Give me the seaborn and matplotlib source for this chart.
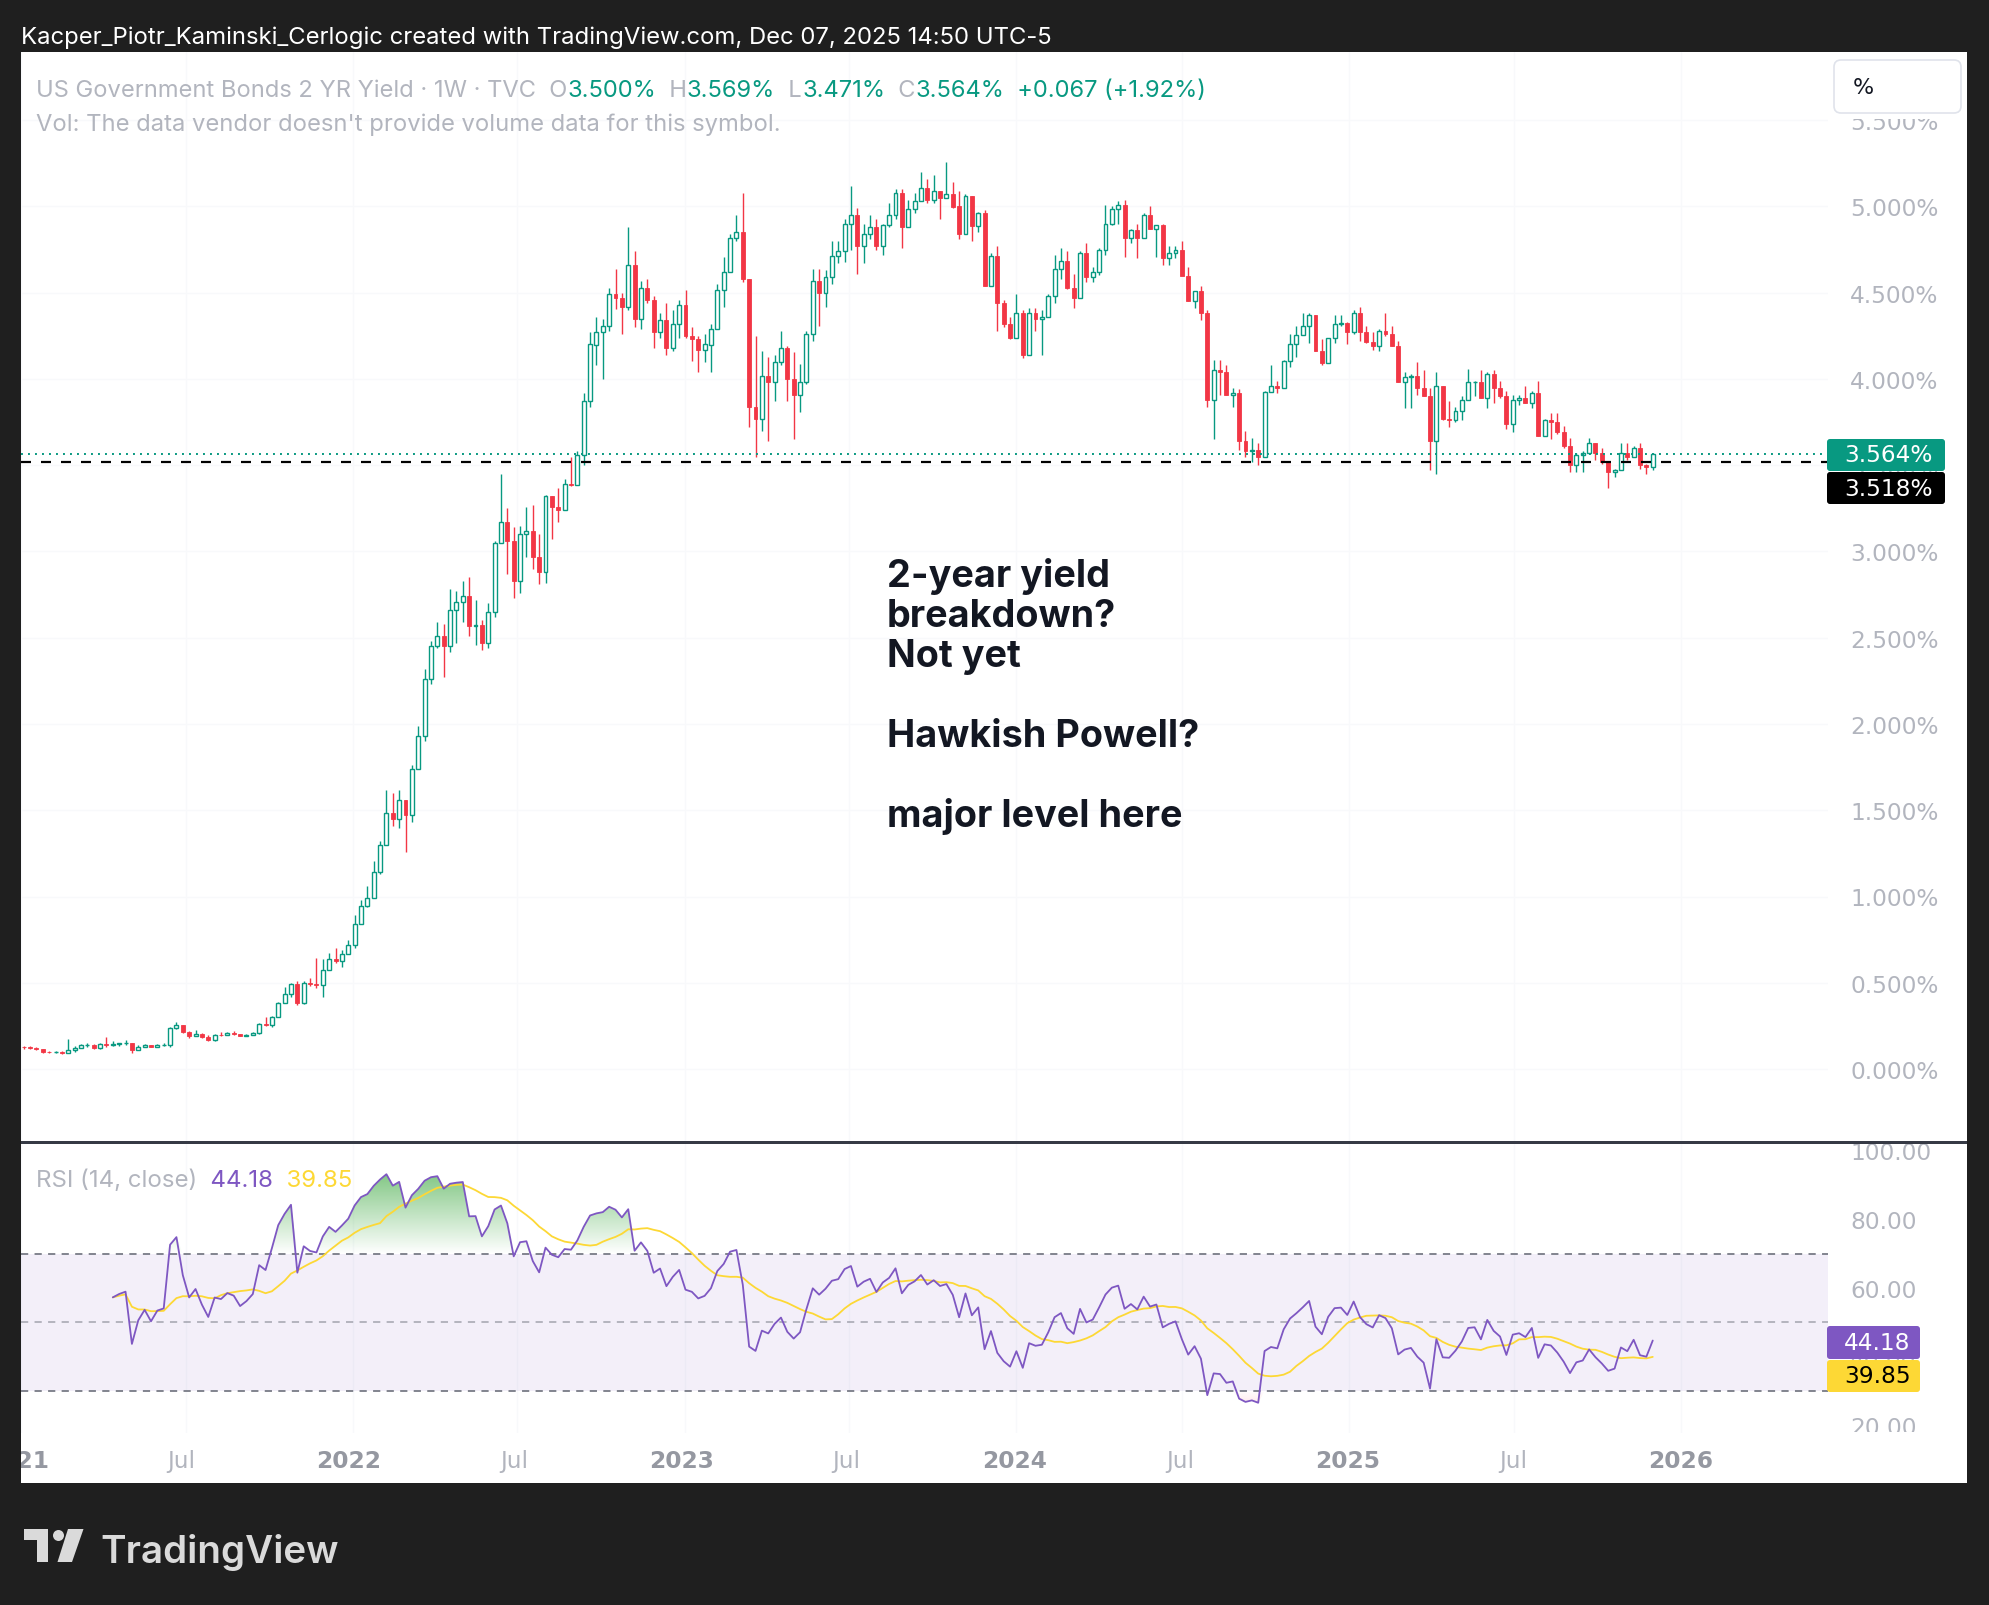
import numpy as np
import pandas as pd
import matplotlib
matplotlib.use("Agg")
import matplotlib.pyplot as plt
import seaborn as sns
from matplotlib.patches import Rectangle, FancyBboxPatch, Circle, Polygon
from matplotlib.colors import LinearSegmentedColormap

# weekly bars of US 2Y yield, first bar = week of 2021-01-04
start = pd.Timestamp("2021-01-04")
first_open = 0.13

close_2021 = [0.125, 0.12, 0.115, 0.10, 0.098, 0.10, 0.095, 0.11, 0.12, 0.14,
              0.142, 0.12, 0.145, 0.14, 0.145, 0.148, 0.15, 0.11, 0.13, 0.14,
              0.13, 0.14, 0.142, 0.236, 0.255, 0.217, 0.19, 0.205, 0.185, 0.168,
              0.20, 0.198, 0.208, 0.205, 0.193, 0.20, 0.21, 0.26, 0.255, 0.304,
              0.381, 0.435, 0.49, 0.38, 0.50, 0.49, 0.487, 0.572, 0.635, 0.625,
              0.667, 0.717]
high_2021 = [0.135, 0.135, 0.125, 0.115, 0.105, 0.105, 0.105, 0.175, 0.135, 0.145,
             0.15, 0.145, 0.15, 0.187, 0.16, 0.152, 0.17, 0.15, 0.14, 0.145,
             0.14, 0.145, 0.148, 0.245, 0.27, 0.255, 0.22, 0.225, 0.21, 0.195,
             0.205, 0.215, 0.215, 0.22, 0.205, 0.205, 0.215, 0.265, 0.30, 0.31,
             0.39, 0.475, 0.50, 0.51, 0.51, 0.53, 0.645, 0.635, 0.67, 0.70,
             0.69, 0.75]
low_2021 = [0.115, 0.115, 0.11, 0.095, 0.093, 0.092, 0.088, 0.09, 0.10, 0.12,
            0.13, 0.115, 0.115, 0.13, 0.135, 0.135, 0.14, 0.095, 0.11, 0.13,
            0.125, 0.13, 0.135, 0.13, 0.23, 0.21, 0.18, 0.19, 0.18, 0.165,
            0.16, 0.19, 0.195, 0.20, 0.19, 0.19, 0.195, 0.205, 0.25, 0.245,
            0.30, 0.39, 0.42, 0.37, 0.375, 0.48, 0.47, 0.42, 0.59, 0.615,
            0.59, 0.70]

close_2022 = [0.84, 0.946, 0.99, 1.14, 1.30, 1.485, 1.45, 1.56, 1.475, 1.74,
              1.93, 2.26, 2.45, 2.51, 2.45, 2.66, 2.71, 2.74, 2.57, 2.575,
              2.47, 2.65, 3.05, 3.17, 3.06, 2.83, 3.10, 3.12, 2.97, 2.88,
              3.32, 3.26, 3.24, 3.39, 3.385, 3.56, 3.87, 4.20, 4.27, 4.31,
              4.49, 4.47, 4.42, 4.66, 4.35, 4.53, 4.46, 4.27, 4.34, 4.18,
              4.32, 4.43]
high_2022 = [0.894, 0.98, 1.06, 1.205, 1.32, 1.62, 1.60, 1.62, 1.55, 1.76,
             1.99, 2.32, 2.48, 2.59, 2.58, 2.78, 2.77, 2.83, 2.85, 2.72,
             2.60, 2.70, 3.06, 3.45, 3.25, 3.14, 3.15, 3.26, 3.27, 3.10,
             3.33, 3.30, 3.37, 3.42, 3.55, 3.58, 3.92, 4.27, 4.36, 4.35,
             4.53, 4.64, 4.50, 4.88, 4.74, 4.57, 4.58, 4.48, 4.38, 4.44,
             4.40, 4.46]
low_2022 = [0.70, 0.86, 0.94, 1.00, 1.13, 1.30, 1.41, 1.40, 1.256, 1.43,
            1.76, 1.90, 2.23, 2.44, 2.27, 2.42, 2.47, 2.59, 2.51, 2.46,
            2.43, 2.44, 2.62, 3.08, 2.87, 2.73, 2.76, 2.97, 2.90, 2.81,
            2.82, 3.07, 3.17, 3.24, 3.38, 3.39, 3.50, 3.84, 4.08, 4.00,
            4.28, 4.405, 4.26, 4.40, 4.30, 4.29, 4.44, 4.18, 4.24, 4.14,
            4.16, 4.24]

close_2023 = [4.25, 4.23, 4.17, 4.20, 4.29, 4.515, 4.62, 4.82, 4.85, 4.58,
              3.84, 3.77, 4.02, 3.98, 4.10, 4.18, 4.00, 3.91, 3.98, 4.26,
              4.57, 4.50, 4.59, 4.715, 4.74, 4.90, 4.95, 4.77, 4.84, 4.88,
              4.77, 4.89, 4.95, 5.08, 4.88, 4.985, 5.03, 5.11, 5.04, 5.09,
              5.05, 5.07, 5.00, 4.84, 5.06, 4.885, 4.96, 4.54, 4.715, 4.44,
              4.32, 4.24]
high_2023 = [4.515, 4.30, 4.25, 4.26, 4.32, 4.55, 4.71, 4.84, 4.95, 5.08,
             4.55, 4.25, 4.16, 4.13, 4.14, 4.28, 4.19, 4.157, 4.086, 4.28,
             4.64, 4.64, 4.63, 4.80, 4.80, 4.93, 5.12, 4.99, 4.90, 4.95,
             4.93, 4.90, 5.02, 5.10, 5.10, 5.04, 5.08, 5.20, 5.16, 5.18,
             5.08, 5.26, 5.14, 5.09, 5.07, 5.06, 4.97, 4.98, 4.73, 4.77,
             4.46, 4.36]
low_2023 = [4.24, 4.105, 4.04, 4.10, 4.04, 4.30, 4.42, 4.62, 4.80, 4.56,
            3.72, 3.55, 3.70, 3.64, 3.87, 4.08, 3.87, 3.65, 3.81, 3.97,
            4.22, 4.31, 4.42, 4.55, 4.67, 4.68, 4.75, 4.61, 4.67, 4.81,
            4.75, 4.72, 4.88, 4.93, 4.76, 4.89, 4.96, 5.03, 5.02, 5.02,
            4.93, 5.05, 4.99, 4.81, 4.85, 4.80, 4.85, 4.54, 4.57, 4.28,
            4.30, 4.23]

close_2024 = [4.38, 4.14, 4.385, 4.35, 4.36, 4.48, 4.64, 4.685, 4.53, 4.47,
              4.73, 4.59, 4.62, 4.75, 4.90, 4.985, 5.01, 4.815, 4.865, 4.82,
              4.95, 4.87, 4.89, 4.70, 4.73, 4.75, 4.60, 4.45, 4.51, 4.385,
              3.88, 4.05, 4.04, 3.91, 3.92, 3.64, 3.58, 3.59, 3.55, 3.925,
              3.96, 3.945, 4.105, 4.205, 4.255, 4.31, 4.37, 4.16, 4.09, 4.24,
              4.32, 4.325, 4.27]
high_2024 = [4.49, 4.40, 4.41, 4.41, 4.40, 4.49, 4.72, 4.76, 4.74, 4.61,
             4.74, 4.79, 4.65, 4.76, 5.01, 5.00, 5.03, 5.04, 4.87, 4.90,
             4.96, 5.00, 4.89, 4.90, 4.77, 4.77, 4.80, 4.65, 4.51, 4.54,
             4.40, 4.11, 4.11, 4.08, 3.95, 3.94, 3.70, 3.66, 3.63, 3.93,
             4.08, 3.99, 4.11, 4.26, 4.31, 4.38, 4.38, 4.35, 4.23, 4.24,
             4.37, 4.37, 4.33]
low_2024 = [4.24, 4.12, 4.14, 4.28, 4.14, 4.36, 4.44, 4.58, 4.52, 4.41,
            4.48, 4.56, 4.56, 4.60, 4.72, 4.89, 4.90, 4.71, 4.79, 4.70,
            4.82, 4.87, 4.71, 4.66, 4.66, 4.70, 4.60, 4.45, 4.41, 4.34,
            3.84, 3.65, 3.91, 3.91, 3.84, 3.59, 3.55, 3.52, 3.50, 3.56,
            3.93, 3.92, 3.95, 4.07, 4.13, 4.27, 4.21, 4.16, 4.08, 4.10,
            4.21, 4.31, 4.20]

close_2025 = [4.385, 4.27, 4.215, 4.19, 4.28, 4.26, 4.19, 3.98, 4.01, 4.02,
              3.95, 3.90, 3.64, 3.96, 3.77, 3.765, 3.815, 3.88, 3.98, 3.985,
              3.89, 4.03, 3.945, 3.90, 3.74, 3.88, 3.89, 3.86, 3.92, 3.67,
              3.76, 3.75, 3.69, 3.61, 3.50, 3.56, 3.57, 3.63, 3.57, 3.52,
              3.46, 3.47, 3.57, 3.545, 3.60, 3.50, 3.49, 3.564]
high_2025 = [4.40, 4.42, 4.31, 4.27, 4.29, 4.38, 4.31, 4.22, 4.04, 4.03,
             4.10, 4.05, 3.95, 4.04, 3.94, 3.87, 3.84, 3.90, 4.06, 3.99,
             4.05, 4.04, 4.05, 3.99, 3.93, 3.91, 3.91, 3.96, 3.93, 3.99,
             3.77, 3.80, 3.80, 3.73, 3.66, 3.57, 3.58, 3.66, 3.63, 3.60,
             3.51, 3.48, 3.63, 3.63, 3.61, 3.63, 3.51, 3.569]
low_2025 = [4.26, 4.22, 4.21, 4.17, 4.16, 4.25, 4.19, 3.98, 3.83, 3.83,
            3.91, 3.90, 3.47, 3.45, 3.76, 3.72, 3.75, 3.76, 3.91, 3.90,
            3.89, 3.83, 3.86, 3.89, 3.71, 3.69, 3.85, 3.86, 3.83, 3.67,
            3.67, 3.65, 3.68, 3.60, 3.46, 3.46, 3.46, 3.57, 3.53, 3.51,
            3.37, 3.43, 3.49, 3.53, 3.57, 3.48, 3.45, 3.471]

level_line = 3.518
last_price = 3.564
price_ticks = [0.0, 0.5, 1.0, 1.5, 2.0, 2.5, 3.0, 3.5, 4.0, 4.5, 5.0, 5.5]
rsi_ticks = [20, 40, 60, 80, 100]
time_labels = ["2021", "Jul", "2022", "Jul", "2023", "Jul", "2024", "Jul", "2025", "Jul", "2026"]
time_dates = ["2021-01-01", "2021-07-01", "2022-01-01", "2022-07-01", "2023-01-01", "2023-07-01",
              "2024-01-01", "2024-07-01", "2025-01-01", "2025-07-01", "2026-01-01"]
note_lines = ["2-year yield", "breakdown?", "Not yet", "Hawkish Powell?", "major level here"]
note_baselines = [587, 627, 667, 747, 827]

GREEN = "#089981"
RED = "#F23645"
PURPLE = "#7E57C2"
YELLOW = "#FDD835"
GRAY = "#B2B5BE"
DARK = "#131722"

# ---- data frame ----
df = pd.DataFrame({
    "close": close_2021 + close_2022 + close_2023 + close_2024 + close_2025,
    "high": high_2021 + high_2022 + high_2023 + high_2024 + high_2025,
    "low": low_2021 + low_2022 + low_2023 + low_2024 + low_2025,
})
df["open"] = df["close"].shift(1).fillna(first_open)
df["high"] = df[["high", "open", "close"]].max(axis=1)
df["low"] = df[["low", "open", "close"]].min(axis=1)
df["x"] = np.arange(len(df))

# RSI 14 (Wilder), seeded with simple average like TradingView
delta = df["close"].diff()
gain = delta.clip(lower=0)
loss = (-delta).clip(lower=0)
g = gain.copy()
l = loss.copy()
g.iloc[:14] = np.nan
l.iloc[:14] = np.nan
g.iloc[14] = gain.iloc[1:15].mean()
l.iloc[14] = loss.iloc[1:15].mean()
avg_g = g.ewm(alpha=1 / 14, adjust=False).mean()
avg_l = l.ewm(alpha=1 / 14, adjust=False).mean()
df["rsi"] = 100 - 100 / (1 + avg_g / avg_l)
df["rsi_ma"] = df["rsi"].rolling(14, min_periods=1).mean()

# ---- figure ----
W, H, DPI = 1990, 1606, 100
sns.set_theme(style="white")
plt.rcParams["font.family"] = ["Inter", "DejaVu Sans"]


def rect(x0, y0, x1, y1):
    return [x0 / W, 1 - y1 / H, (x1 - x0) / W, (y1 - y0) / H]


fig = plt.figure(figsize=(W / DPI, H / DPI), dpi=DPI)
fig.patch.set_facecolor("#1f1f1f")
renderer = fig.canvas.get_renderer()

base = fig.add_axes([0, 0, 1, 1])
base.set_xlim(0, W)
base.set_ylim(H, 0)
base.axis("off")
base.set_zorder(-5)
base.add_patch(Rectangle((21, 53), 1946, 1431, color="white", lw=0))

x_left = (21 - 19) / 6.38
x_right = (1828 - 19) / 6.38
tpos = [(pd.Timestamp(d) - start).days / 7 for d in time_dates]


def fit_size(text, width, **kw):
    t = base.text(0, 0, text, fontsize=20, **kw)
    w = t.get_window_extent(renderer).width
    t.remove()
    return 20 * width / w


tick_size = fit_size("5.000%", 89, family="DejaVu Sans")

# main price pane
ax = fig.add_axes(rect(21, 53, 1828, 1143))
ax.patch.set_alpha(0)
ax.set_zorder(1)
up = df[df["close"] >= df["open"]]
dn = df[df["close"] < df["open"]]
ax.vlines(up["x"], up["low"], up["high"], color=GREEN, lw=1.0, zorder=2)
ax.vlines(dn["x"], dn["low"], dn["high"], color=RED, lw=1.0, zorder=2)
ax.bar(up["x"], up["close"] - up["open"], bottom=up["open"], width=0.62,
       facecolor="white", edgecolor=GREEN, linewidth=1.0, zorder=3)
ax.bar(dn["x"], dn["open"] - dn["close"], bottom=dn["close"], width=0.62,
       facecolor=RED, edgecolor=RED, linewidth=0.6, zorder=3)
ax.axhline(level_line, color="black", lw=1.6, ls=(0, (4.5, 4.5)), zorder=4)
ax.axhline(last_price, color=GREEN, lw=1.4, ls=(0, (1, 2.6)), zorder=4)
ax.set_xlim(x_left, x_right)
ax.set_ylim((1070 - 1143) / 172.5, (1070 - 53) / 172.5)
ax.set_yticks(price_ticks)
ax.set_yticklabels([f"{v:.3f}%" for v in price_ticks])
ax.yaxis.tick_right()
ax.set_xticks(tpos)
ax.tick_params(axis="x", length=0, labelbottom=False)
ax.tick_params(axis="y", length=0, pad=16, labelsize=tick_size, labelcolor=GRAY)
for lab in ax.get_yticklabels():
    lab.set_family("DejaVu Sans")
ax.grid(True, color="#F8F9FB", lw=1)
for s in ax.spines.values():
    s.set_visible(False)

# RSI pane
rax = fig.add_axes(rect(21, 1145, 1828, 1434))
rax.patch.set_alpha(0)
rax.set_zorder(1)
rax.axhspan(30, 70, color=PURPLE, alpha=0.09, lw=0)
for lvl, a in ((70, 1.0), (50, 0.55), (30, 1.0)):
    rax.axhline(lvl, color="#787B86", alpha=a, lw=1.3, ls=(0, (4, 3.5)))

valid = df["rsi"].notna()
xv = df.loc[valid, "x"].values
rv = df.loc[valid, "rsi"].values
grad = np.linspace(0, 1, 256).reshape(-1, 1)
poly = rax.fill_between(xv, 70, np.maximum(rv, 70), facecolor="none", edgecolor="none")
cm_g = LinearSegmentedColormap.from_list("g", [(0.30, 0.69, 0.31, 0.0), (0.30, 0.69, 0.31, 0.9)])
im = rax.imshow(grad, extent=[xv[0], xv[-1], 70, 100], origin="lower", aspect="auto", cmap=cm_g, zorder=1)
im.set_clip_path(poly.get_paths()[0], transform=rax.transData)
poly2 = rax.fill_between(xv, np.minimum(rv, 30), 30, facecolor="none", edgecolor="none")
cm_r = LinearSegmentedColormap.from_list("r", [(0.95, 0.21, 0.27, 0.9), (0.95, 0.21, 0.27, 0.0)])
im2 = rax.imshow(grad, extent=[xv[0], xv[-1], 0, 30], origin="lower", aspect="auto", cmap=cm_r, zorder=1)
im2.set_clip_path(poly2.get_paths()[0], transform=rax.transData)

sns.lineplot(x=df["x"], y=df["rsi_ma"], ax=rax, color=YELLOW, lw=1.3, zorder=3)
sns.lineplot(x=df["x"], y=df["rsi"], ax=rax, color=PURPLE, lw=1.3, zorder=4)
rax.set_xlim(x_left, x_right)
rax.set_ylim(100 - (1434 - 1151.5) / 3.435, 100 + (1151.5 - 1145) / 3.435)
rax.set_yticks(rsi_ticks)
rax.set_yticklabels([f"{v:.2f}" for v in rsi_ticks])
rax.yaxis.tick_right()
rax.set_xticks(tpos)
rax.tick_params(axis="x", length=0, labelbottom=False)
rax.tick_params(axis="y", length=0, pad=16, labelsize=tick_size, labelcolor=GRAY)
for lab in rax.get_yticklabels():
    lab.set_family("DejaVu Sans")
rax.set_xlabel("")
rax.set_ylabel("")
rax.grid(True, axis="x", color="#F8F9FB", lw=1)
for s in rax.spines.values():
    s.set_visible(False)

# time axis
tax = fig.add_axes(rect(21, 1434, 1828, 1484))
tax.patch.set_alpha(0)
tax.set_xlim(x_left, x_right)
tax.set_ylim(0, 1)
tax.axis("off")
for lab, p in zip(time_labels, tpos):
    is_year = lab != "Jul"
    tax.text(p, 0.45, lab, ha="center", va="center", fontsize=tick_size, family="DejaVu Sans",
             color="#9598A1" if is_year else GRAY, weight="bold" if is_year else "normal",
             clip_on=True)

# overlay: texts, tags, logo
ov = fig.add_axes([0, 0, 1, 1])
ov.set_xlim(0, W)
ov.set_ylim(H, 0)
ov.axis("off")
ov.set_zorder(10)

ov.add_patch(Rectangle((1829, 53), 138, 67, color="white", lw=0))
ov.add_patch(FancyBboxPatch((1834, 61), 127, 53, boxstyle="round,pad=0,rounding_size=7",
                            fc="white", ec="#E0E3EB", lw=1.2))
ov.text(1863, 88, "%", ha="center", va="center", fontsize=tick_size * 0.95, color=DARK, family="DejaVu Sans")
ov.add_patch(Rectangle((1829, 1115), 138, 28, color="white", lw=0))
ov.add_patch(Rectangle((1829, 1433), 138, 51, color="white", lw=0))
ov.add_patch(Rectangle((21, 1142), 1946, 3, color="#363A45", lw=0))


def tag(y0, y1, text, fc, tc, x1=1945):
    ov.add_patch(FancyBboxPatch((1827, y0), x1 - 1827, y1 - y0, boxstyle="round,pad=0,rounding_size=3",
                                fc=fc, ec="none"))
    ov.text(1844, (y0 + y1) / 2, text, ha="left", va="center", fontsize=tick_size, color=tc,
            family="DejaVu Sans")


tag(440, 472, f"{last_price:.3f}%", GREEN, "white")
tag(473, 505, f"{level_line:.3f}%", "black", "white")
tag(1327, 1360, "44.18", PURPLE, "white", x1=1920)
tag(1361, 1393, "39.85", YELLOW, "black", x1=1920)

hdr = "Kacper_Piotr_Kaminski_Cerlogic created with TradingView.com, Dec 07, 2025 14:50 UTC-5"
ov.text(21, 38, hdr, ha="left", va="center", color="white", fontsize=fit_size(hdr, 1030))


def seq(x, y, pieces, size):
    for s, c in pieces:
        t = ov.text(x, y, s, ha="left", va="center", color=c, fontsize=size)
        x += t.get_window_extent(renderer).width


legend = [("US Government Bonds 2 YR Yield · 1W · TVC", GRAY), ("  O", GRAY), ("3.500%", GREEN),
          ("  H", GRAY), ("3.569%", GREEN), ("  L", GRAY), ("3.471%", GREEN),
          ("  C", GRAY), ("3.564%", GREEN), ("  +0.067 (+1.92%)", GREEN)]
seq(36, 91, legend, fit_size("".join(s for s, _ in legend), 1171))
vol = "Vol: The data vendor doesn't provide volume data for this symbol."
ov.text(36, 125, vol, ha="left", va="center", color=GRAY, fontsize=fit_size(vol, 742))
rsi_leg = [("RSI (14, close)", GRAY), ("  44.18", PURPLE), ("  39.85", YELLOW)]
seq(36, 1181, rsi_leg, fit_size("".join(s for s, _ in rsi_leg), 317))

note_size = fit_size("Hawkish Powell?", 313, weight="bold")
for line, yb in zip(note_lines, note_baselines):
    ov.text(887, yb, line, ha="left", va="baseline", color=DARK, fontsize=note_size, weight="bold")

# TradingView logo
LOGO = "#DADADA"
ov.add_patch(Rectangle((24, 1530), 24, 11, color=LOGO, lw=0))
ov.add_patch(Rectangle((36.5, 1530), 11.5, 33, color=LOGO, lw=0))
ov.add_patch(Circle((58.5, 1536.5), 5.5, color=LOGO, lw=0))
ov.add_patch(Polygon([(68, 1530), (83.5, 1530), (72, 1563), (57.5, 1563)], closed=True, color=LOGO, lw=0))
ov.text(100, 1563, "TradingView", ha="left", va="baseline", color=LOGO,
        fontsize=fit_size("TradingView", 239, weight="semibold"), weight="semibold")

fig.savefig("out.png", dpi=DPI, facecolor=fig.get_facecolor())
